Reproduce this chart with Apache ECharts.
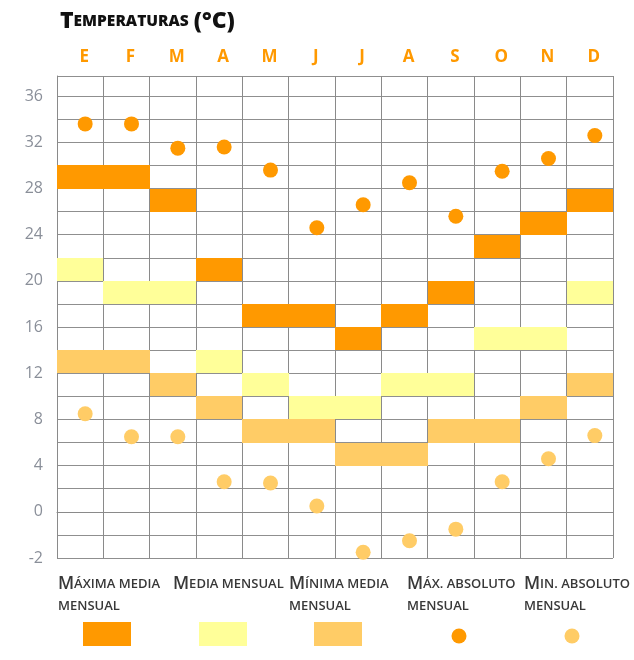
<!DOCTYPE html>
<html>
<head>
<meta charset="utf-8">
<script src="https://cdn.jsdelivr.net/npm/echarts@6/dist/echarts.min.js"></script>
<style>html,body{margin:0;padding:0;background:#fff;}#c{width:634px;height:660px;}</style>
</head>
<body>
<div id="c"></div>
<script>
// ---- data ----
const months = ['E','F','M','A','M','J','J','A','S','O','N','D'];
// 2-degree bands (lower, upper)
const maxMediaLow  = [28,28,26,20,16,16,14,16,18,22,24,26];
const maxMediaHigh = [30,30,28,22,18,18,16,18,20,24,26,28];
const mediaLow     = [20,18,18,12,10, 8, 8,10,10,14,14,18];
const mediaHigh    = [22,20,20,14,12,10,10,12,12,16,16,20];
const minMediaLow  = [12,12,10, 8, 6, 6, 4, 4, 6, 6, 8,10];
const minMediaHigh = [14,14,12,10, 8, 8, 6, 6, 8, 8,10,12];
const maxAbs = [33.6,33.6,31.5,31.6,29.6,24.6,26.6,28.5,25.6,29.5,30.6,32.6];
const minAbs = [8.5,6.5,6.5,2.6,2.5,0.5,-3.5,-2.5,-1.5,2.6,4.6,6.6];
const yTickValues = [36,32,28,24,20,16,12,8,4,0,-4];
const yTickLabels = ['36','32','28','24','20','16','12','8','4','0','-2'];
const legendLines = [['Máxima media','mensual'],['Media mensual'],['Mínima media','mensual'],['Máx. absoluto','mensual'],['Min. absoluto','mensual']];
const titleText = 'Temperaturas';
const titleUnit = '(°C)';

// ---- styles ----
const C_MAX = '#FF9900', C_MED = '#FFFF99', C_MIN = '#FFCC66';
const FONT = 'Open Sans';

function bandSeries(name, low, high, color) {
  return {
    name, type: 'custom',
    data: months.map((m, i) => [i, low[i], high[i]]),
    encode: { x: 0, y: [1, 2] },
    z: 3,
    renderItem(params, api) {
      const i = api.value(0);
      const top = api.coord([i, api.value(2)]);
      const bot = api.coord([i, api.value(1)]);
      const w = api.size([1, 0])[0];
      const x0 = Math.round(top[0] - w / 2), x1 = Math.round(top[0] + w / 2);
      const y0 = Math.round(top[1]), y1 = Math.round(bot[1]);
      return { type: 'rect', shape: { x: x0, y: y0, width: x1 - x0, height: y1 - y0 }, style: { fill: color } };
    }
  };
}

function smallCaps(lines) {
  return lines.map((ln, li) => {
    if (li === 0) return '{b|' + ln[0].toUpperCase() + '}{s|' + ln.slice(1).toUpperCase() + '}';
    return '{s|' + ln.toUpperCase() + '}';
  }).join('\n');
}

const legendX = [58, 173, 289, 407, 524];
const swatchCx = [107, 223, 338, 459, 572];
const legendColors = [C_MAX, C_MED, C_MIN, C_MAX, C_MIN];
const legendKinds = ['rect','rect','rect','circle','circle'];

const graphics = [];
legendLines.forEach((ln, i) => {
  graphics.push({
    type: 'text', left: legendX[i], top: 575,
    style: {
      text: smallCaps(ln),
      rich: {
        b: { fontFamily: FONT, fontWeight: 600, fontSize: 17.5, fill: '#383838', lineHeight: 22 },
        s: { fontFamily: FONT, fontWeight: 600, fontSize: 13, fill: '#383838', lineHeight: 22 }
      }
    }
  });
  if (legendKinds[i] === 'rect') {
    graphics.push({ type: 'rect', shape: { x: swatchCx[i] - 24, y: 622, width: 48, height: 24 }, style: { fill: legendColors[i] } });
  } else {
    graphics.push({ type: 'circle', shape: { cx: swatchCx[i], cy: 636, r: 7.5 }, style: { fill: legendColors[i] } });
  }
});

const chart = echarts.init(document.getElementById('c'), null, { renderer: 'canvas' });
chart.setOption({
  animation: false,
  backgroundColor: '#fff',
  title: {
    left: 55, top: 5,
    text: '{b|' + titleText[0].toUpperCase() + '}{s|' + titleText.slice(1).toUpperCase() + '} {b|' + titleUnit + '}',
    textStyle: {
      rich: {
        b: { fontFamily: FONT, fontWeight: 800, fontSize: 23, color: '#111' },
        s: { fontFamily: FONT, fontWeight: 800, fontSize: 15.5, color: '#111' }
      }
    }
  },
  grid: { left: 57, right: 21, top: 76, bottom: 102, containLabel: false },
  xAxis: {
    type: 'category', position: 'top', data: months, boundaryGap: true,
    axisLine: { show: true, lineStyle: { color: '#8a8a8a', width: 1 } },
    axisTick: { show: true, length: 3, lineStyle: { color: '#8a8a8a' } },
    axisLabel: { color: C_MAX, fontFamily: FONT, fontWeight: 'bold', fontSize: 17, margin: 10, padding: [0, 0, 0, 8] },
    splitLine: { show: true, lineStyle: { color: '#8a8a8a', width: 1 } }
  },
  yAxis: {
    type: 'value', min: -4, max: 37.75, interval: 2,
    axisLine: { show: true, lineStyle: { color: '#8a8a8a', width: 1 } },
    axisTick: { show: false },
    axisLabel: {
      color: '#8a8f99', fontFamily: FONT, fontSize: 16, margin: 14, padding: [0, 0, 10, 0],
      showMinLabel: true, showMaxLabel: true,
      formatter: v => { const k = yTickValues.indexOf(v); return k >= 0 ? yTickLabels[k] : ''; }
    },
    splitLine: { show: true, lineStyle: { color: '#8f8f8f', width: 1 } }
  },
  series: [
    bandSeries('Máxima media mensual', maxMediaLow, maxMediaHigh, C_MAX),
    bandSeries('Media mensual', mediaLow, mediaHigh, C_MED),
    bandSeries('Mínima media mensual', minMediaLow, minMediaHigh, C_MIN),
    { name: 'Máx. absoluto mensual', type: 'scatter', data: maxAbs, symbolSize: 15, symbolOffset: [5, 0], itemStyle: { color: C_MAX, opacity: 1 }, z: 4 },
    { name: 'Min. absoluto mensual', type: 'scatter', data: minAbs, symbolSize: 15, symbolOffset: [5, 0], itemStyle: { color: C_MIN, opacity: 1 }, z: 4 }
  ],
  graphic: graphics
});
</script>
</body>
</html>
